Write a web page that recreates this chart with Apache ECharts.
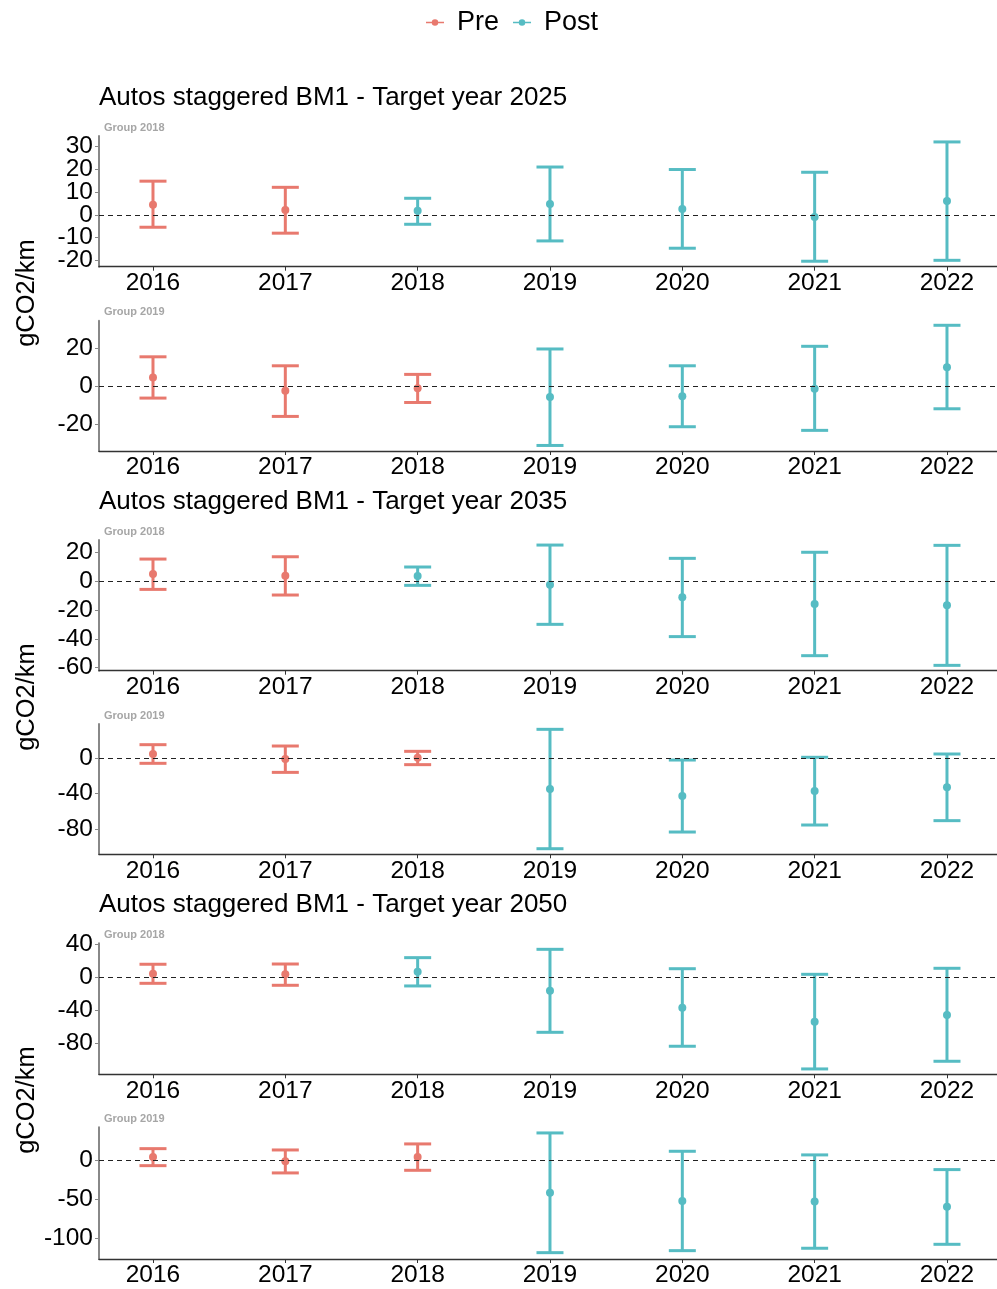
<!DOCTYPE html>
<html><head><meta charset="utf-8">
<script src="https://cdn.jsdelivr.net/npm/echarts@6/dist/echarts.min.js"></script>
<style>html,body{margin:0;padding:0;background:#fff}#c{width:997px;height:1289px}</style>
</head><body><div id="c"></div>
<script>
// ---- data ----
const years = [2016, 2017, 2018, 2019, 2020, 2021, 2022];
const seriesNames = ['Pre', 'Post'];
const panelTitles = ['Autos staggered BM1 - Target year 2025', 'Autos staggered BM1 - Target year 2035', 'Autos staggered BM1 - Target year 2050'];
const groupLabels = ['Group 2018', 'Group 2019'];
const treatYear = [2018, 2019];   // first "Post" year per group
const yTitle = 'gCO2/km';

// Target 2025
const est_2025_g2018 = [4.5, 2.2, 1.8, 4.8, 2.6, -0.9, 6.1];
const lo_2025_g2018  = [-5.4, -8.0, -4.1, -11.4, -14.6, -20.3, -19.9];
const hi_2025_g2018  = [14.8, 12.1, 7.3, 21.0, 19.9, 18.7, 32.0];
const est_2025_g2019 = [4.5, -2.4, -1.2, -5.8, -5.4, -1.4, 9.8];
const lo_2025_g2019  = [-6.3, -15.9, -8.6, -31.1, -21.3, -23.2, -11.9];
const hi_2025_g2019  = [15.3, 10.6, 6.1, 19.4, 10.6, 20.8, 31.8];
// Target 2035
const est_2035_g2018 = [4.8, 3.7, 3.5, -2.5, -11.3, -15.9, -16.8];
const lo_2035_g2018  = [-5.8, -9.7, -3.0, -30.0, -38.5, -51.7, -58.4];
const hi_2035_g2018  = [15.2, 16.8, 9.7, 24.9, 15.7, 19.9, 24.7];
const est_2035_g2019 = [4.5, -1.1, 0.4, -34.9, -42.8, -37.2, -33.1];
const lo_2035_g2019  = [-6.0, -16.2, -7.5, -102.2, -83.4, -75.5, -70.6];
const hi_2035_g2019  = [15.0, 13.5, 7.5, 32.3, -2.3, 0.8, 4.5];
// Target 2050
const est_2050_g2018 = [4.4, 3.6, 6.8, -16.2, -36.8, -53.8, -45.7];
const lo_2050_g2018  = [-7.3, -9.7, -10.5, -66.7, -83.6, -111.1, -101.8];
const hi_2050_g2018  = [15.8, 16.1, 23.8, 33.9, 10.4, 3.6, 10.9];
const est_2050_g2019 = [4.7, -0.9, 4.7, -41.4, -52.1, -53.0, -59.5];
const lo_2050_g2019  = [-6.5, -15.9, -12.5, -119.0, -116.4, -113.3, -108.2];
const hi_2050_g2019  = [15.5, 13.8, 21.6, 35.8, 12.1, 7.4, -11.6];

// y tick labels per panel
const yTicks_2025_g2018 = [-20, -10, 0, 10, 20, 30];
const yTicks_2025_g2019 = [-20, 0, 20];
const yTicks_2035_g2018 = [-60, -40, -20, 0, 20];
const yTicks_2035_g2019 = [-80, -40, 0];
const yTicks_2050_g2018 = [-80, -40, 0, 40];
const yTicks_2050_g2019 = [-100, -50, 0];

// ---- layout / style ----
const colors = { Pre: '#E8796E', Post: '#56BCC3' };
const panels = [
  { est: est_2025_g2018, lo: lo_2025_g2018, hi: hi_2025_g2018, g: 0, ticks: yTicks_2025_g2018, top: 136, bottom: 266.7, min: -22.7, max: 34.6 },
  { est: est_2025_g2019, lo: lo_2025_g2019, hi: hi_2025_g2019, g: 1, ticks: yTicks_2025_g2019, top: 320.7, bottom: 451, min: -34, max: 34.2 },
  { est: est_2035_g2018, lo: lo_2035_g2018, hi: hi_2035_g2018, g: 0, ticks: yTicks_2035_g2018, top: 540, bottom: 670.7, min: -62.1, max: 28.4 },
  { est: est_2035_g2019, lo: lo_2035_g2019, hi: hi_2035_g2019, g: 1, ticks: yTicks_2035_g2019, top: 724, bottom: 854.3, min: -108.5, max: 38.3 },
  { est: est_2050_g2018, lo: lo_2050_g2018, hi: hi_2050_g2018, g: 0, ticks: yTicks_2050_g2018, top: 943.3, bottom: 1074.3, min: -117.6, max: 41.2 },
  { est: est_2050_g2019, lo: lo_2050_g2019, hi: hi_2050_g2019, g: 1, ticks: yTicks_2050_g2019, top: 1127.3, bottom: 1259, min: -127.2, max: 43.1 }
];
const titleY = [80, 484, 887];
const yTitleCenters = [293, 697, 1100];
const FONT = '"Liberation Sans", Arial, sans-serif';

const grids = [], xAxes = [], yAxes = [], series = [], titles = [], graphics = [];

panelTitles.forEach((t, i) => {
  titles.push({ text: t, left: 94, top: titleY[i], textStyle: { fontFamily: FONT, fontSize: 26, fontWeight: 'normal', color: '#000' } });
});

function errRender(params, api) {
  const x = api.value(0), lo = api.value(1), hi = api.value(2), m = api.value(3);
  const pHi = api.coord([x, hi]), pLo = api.coord([x, lo]), pM = api.coord([x, m]);
  const col = api.visual('color');
  const hw = 13.5;
  const ls = { stroke: col, lineWidth: 3 };
  return {
    type: 'group',
    children: [
      { type: 'line', shape: { x1: pHi[0], y1: pHi[1], x2: pLo[0], y2: pLo[1] }, style: ls },
      { type: 'line', shape: { x1: pHi[0] - hw, y1: pHi[1], x2: pHi[0] + hw, y2: pHi[1] }, style: ls },
      { type: 'line', shape: { x1: pLo[0] - hw, y1: pLo[1], x2: pLo[0] + hw, y2: pLo[1] }, style: ls },
      { type: 'circle', shape: { cx: pM[0], cy: pM[1], r: 4 }, style: { fill: col } }
    ]
  };
}

function yAxisDef(i, p, vals, showLine) {
  return {
    gridIndex: i, type: 'value', min: p.min, max: p.max, position: 'left',
    axisLine: { show: showLine, onZero: false, lineStyle: { color: '#888', width: 2 } },
    axisTick: { show: true, length: 4, lineStyle: { color: '#888' }, customValues: vals },
    axisLabel: { customValues: vals, fontFamily: FONT, fontSize: 24.5, color: '#000', margin: 6, hideOverlap: false, showMinLabel: true, showMaxLabel: true },
    splitLine: { show: false }
  };
}

panels.forEach((p, i) => {
  grids.push({ left: 99, right: 0, top: p.top, height: p.bottom - p.top });
  xAxes.push({
    gridIndex: i, type: 'value', min: 2015.592, max: 2022.378,
    axisLine: { onZero: false, lineStyle: { color: '#333', width: 1.3 } },
    axisTick: { show: true, length: 4, lineStyle: { color: '#333' }, customValues: years },
    axisLabel: { customValues: years, fontFamily: FONT, fontSize: 24.5, color: '#000', margin: 4, hideOverlap: false, formatter: v => String(v) },
    splitLine: { show: false }
  });
  // two overlaid left axes (alternate ticks) so closely spaced labels are never dropped
  const evenTicks = p.ticks.filter((_, k) => k % 2 === 0);
  const oddTicks = p.ticks.filter((_, k) => k % 2 === 1);
  const yIdx = yAxes.length;
  yAxes.push(yAxisDef(i, p, evenTicks, true));
  yAxes.push(yAxisDef(i, p, oddTicks, false));
  yAxes[yIdx + 1].offset = 0;

  titles.push({ text: groupLabels[p.g], left: 99, top: p.top - 19, textStyle: { fontFamily: FONT, fontSize: 11, fontWeight: 'bold', color: '#a6a6a6' } });

  const pre = [], post = [];
  years.forEach((y, k) => {
    const row = [y, p.lo[k], p.hi[k], p.est[k]];
    (y < treatYear[p.g] ? pre : post).push(row);
  });
  series.push({
    type: 'scatter', xAxisIndex: i, yAxisIndex: yIdx, data: [], silent: true, symbolSize: 0,
    markLine: { silent: true, symbol: 'none', label: { show: false }, lineStyle: { color: '#222', type: [5, 4], width: 1.2 }, data: [{ yAxis: 0 }] }
  });
  series.push({ type: 'scatter', xAxisIndex: i, yAxisIndex: yIdx + 1, data: [], silent: true, symbolSize: 0 });
  series.push({ name: 'Pre', type: 'custom', xAxisIndex: i, yAxisIndex: yIdx, renderItem: errRender, data: pre, itemStyle: { color: colors.Pre }, encode: { x: 0, y: [1, 2, 3] }, z: 3 });
  series.push({ name: 'Post', type: 'custom', xAxisIndex: i, yAxisIndex: yIdx, renderItem: errRender, data: post, itemStyle: { color: colors.Post }, encode: { x: 0, y: [1, 2, 3] }, z: 3 });
});

yTitleCenters.forEach(c => {
  graphics.push({ type: 'text', x: 27, y: c, rotation: Math.PI / 2, style: { text: yTitle, fontFamily: FONT, fontSize: 25.5, fill: '#000', align: 'center', verticalAlign: 'middle' } });
});

const icon = 'path://M0,4.2H20V5.8H0Z M13.6,5A3.6,3.6,0,1,1,6.4,5A3.6,3.6,0,1,1,13.6,5Z';
const chart = echarts.init(document.getElementById('c'), null, { renderer: 'canvas' });
chart.setOption({
  backgroundColor: '#fff',
  animation: false,
  title: titles,
  legend: {
    top: 4, left: 421, itemWidth: 18, itemHeight: 9, itemGap: 14,
    data: seriesNames.map(n => ({ name: n, icon: icon, itemStyle: { color: colors[n] } })),
    textStyle: { fontFamily: FONT, fontSize: 27, color: '#000', padding: [0, 0, 0, 8] }
  },
  grid: grids, xAxis: xAxes, yAxis: yAxes, series: series, graphic: graphics
});
</script></body></html>
